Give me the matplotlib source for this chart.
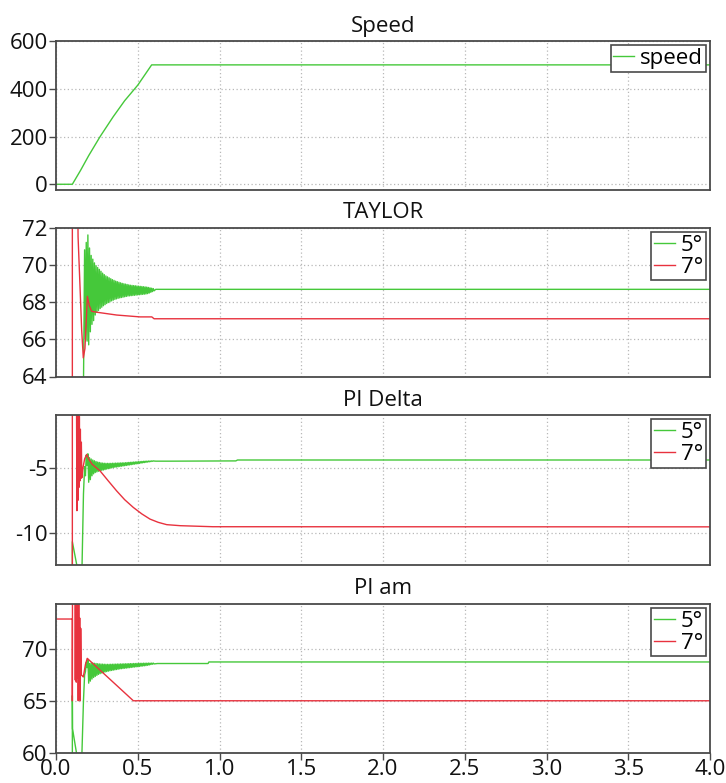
import numpy as np
import matplotlib
matplotlib.use("Agg")
import matplotlib.pyplot as plt

GREEN = "#45c83a"
RED = "#e8323e"

# ---------------- data ----------------
# Speed
speed_t = [0.0, 0.10, 0.15, 0.20, 0.27, 0.35, 0.42, 0.50, 0.585, 4.0]
speed_v = [0, 0, 58, 120, 200, 283, 350, 415, 500, 500]

# oscillation sample times (upper swing at t_hi, lower swing at t_lo)
osc_t_hi = np.round(0.175 + 0.01 * np.arange(43), 3)
osc_t_lo = np.round(0.180 + 0.01 * np.arange(43), 3)

# TAYLOR 5 deg
tay5_pre_t = [0.0, 0.16, 0.168]
tay5_pre_v = [60.0, 60.0, 63.5]
tay5_hi = [70.8, 71.2, 71.6, 70.9, 70.5, 70.3, 70.1, 69.95, 69.85, 69.75, 69.65,
           69.55, 69.47, 69.4, 69.35, 69.3, 69.25, 69.2, 69.16, 69.12, 69.09,
           69.06, 69.03, 69.0, 68.98, 68.96, 68.94, 68.92, 68.9, 68.89, 68.88,
           68.87, 68.86, 68.85, 68.84, 68.83, 68.82, 68.81, 68.8, 68.78, 68.76,
           68.74, 68.72]
tay5_lo = [66.0, 65.9, 65.7, 66.4, 66.8, 67.0, 67.3, 67.45, 67.55, 67.65, 67.72,
           67.8, 67.86, 67.92, 67.97, 68.02, 68.06, 68.1, 68.14, 68.17, 68.2,
           68.22, 68.24, 68.26, 68.28, 68.3, 68.32, 68.33, 68.34, 68.35, 68.36,
           68.37, 68.38, 68.39, 68.4, 68.41, 68.42, 68.43, 68.45, 68.48, 68.52,
           68.56, 68.6]
tay5_post_t = [0.61, 4.0]
tay5_post_v = [68.68, 68.68]

# TAYLOR 7 deg
tay7_t = [0.0, 0.1, 0.1, 0.13, 0.135, 0.147, 0.157, 0.167, 0.177, 0.192, 0.204,
          0.218, 0.25, 0.371, 0.514, 0.586, 0.6, 4.0]
tay7_v = [60.0, 60.0, 76.0, 76.0, 71.5, 68.8, 66.5, 65.0, 65.5, 68.3, 67.8,
          67.5, 67.45, 67.3, 67.2, 67.2, 67.1, 67.1]

# PI Delta 5 deg
pid5_pre_t = [0.0, 0.1, 0.1, 0.13, 0.157, 0.168]
pid5_pre_v = [-20.0, -20.0, -10.7, -12.7, -14.0, -7.0]
pid5_hi = [-4.9, -4.0, -3.9, -4.2, -4.3, -4.38, -4.44, -4.5, -4.54, -4.57, -4.6,
           -4.62, -4.63, -4.64, -4.64, -4.64, -4.64, -4.63, -4.63, -4.62, -4.62,
           -4.61, -4.61, -4.6, -4.6, -4.59, -4.58, -4.57, -4.56, -4.55, -4.54,
           -4.53, -4.52, -4.51, -4.5, -4.49, -4.48, -4.47, -4.47, -4.46, -4.46,
           -4.45, -4.45]
pid5_lo = [-5.6, -4.8, -6.1, -5.9, -5.6, -5.45, -5.35, -5.3, -5.25, -5.22, -5.18,
           -5.15, -5.12, -5.08, -5.05, -5.02, -4.99, -4.96, -4.94, -4.92, -4.9,
           -4.88, -4.86, -4.84, -4.82, -4.8, -4.78, -4.76, -4.74, -4.72, -4.7,
           -4.68, -4.66, -4.64, -4.62, -4.6, -4.58, -4.56, -4.54, -4.52, -4.5,
           -4.48, -4.46]
pid5_post_t = [0.61, 0.7, 1.1, 1.11, 4.0]
pid5_post_v = [-4.47, -4.47, -4.45, -4.38, -4.38]

# PI Delta 7 deg
pid7_t = [0.0, 0.1, 0.1, 0.125, 0.128, 0.131, 0.134, 0.137, 0.140, 0.143, 0.146,
          0.149, 0.152, 0.155, 0.158, 0.165, 0.175, 0.188, 0.2, 0.22, 0.27, 0.32,
          0.371, 0.42, 0.473, 0.525, 0.575, 0.625, 0.677, 0.76, 0.96, 4.0]
pid7_v = [-20.0, -20.0, 2.0, 2.0, -8.3, 0.0, -7.5, -0.5, -6.5, -1.0, -6.0,
          -2.0, -5.8, -3.0, -5.75, -5.0, -4.3, -3.95, -4.3, -4.7, -5.23, -6.0,
          -6.77, -7.45, -8.05, -8.55, -8.95, -9.2, -9.38, -9.46, -9.54, -9.55]

# PI am 5 deg
pam5_pre_t = [0.0, 0.1, 0.1, 0.101, 0.13, 0.155, 0.168]
pam5_pre_v = [55.0, 55.0, 65.5, 62.3, 59.5, 58.0, 65.0]
pam5_hi = [67.5, 68.7, 69.0, 68.6, 68.65, 68.65, 68.62, 68.6, 68.58, 68.56, 68.55,
           68.54, 68.53, 68.52, 68.52, 68.52, 68.53, 68.53, 68.54, 68.54, 68.55,
           68.55, 68.56, 68.56, 68.57, 68.57, 68.58, 68.58, 68.59, 68.59, 68.6,
           68.6, 68.61, 68.61, 68.62, 68.62, 68.63, 68.63, 68.63, 68.64, 68.64,
           68.64, 68.64]
pam5_lo = [67.8, 68.2, 66.7, 66.9, 67.1, 67.25, 67.35, 67.45, 67.55, 67.62, 67.68,
           67.73, 67.78, 67.82, 67.86, 67.9, 67.93, 67.96, 67.99, 68.02, 68.05,
           68.08, 68.1, 68.12, 68.14, 68.16, 68.18, 68.2, 68.22, 68.24, 68.26,
           68.28, 68.3, 68.32, 68.34, 68.36, 68.38, 68.4, 68.43, 68.46, 68.5,
           68.53, 68.56]
pam5_post_t = [0.62, 0.93, 0.935, 4.0]
pam5_post_v = [68.6, 68.6, 68.75, 68.75]

# PI am 7 deg
pam7_t = [0.0, 0.1, 0.1, 0.101, 0.115, 0.118, 0.121, 0.124, 0.127, 0.130, 0.133,
          0.136, 0.139, 0.142, 0.145, 0.148, 0.151, 0.155, 0.167, 0.18, 0.191,
          0.473, 4.0]
pam7_v = [72.9, 72.9, 65.0, 78.0, 78.0, 67.0, 76.0, 66.8, 76.0, 67.2, 75.0,
          65.0, 74.5, 67.0, 73.0, 65.0, 72.0, 67.5, 67.3, 68.5, 69.1,
          65.0, 65.0]

titles = ["Speed", "TAYLOR", "PI Delta", "PI am"]
yticks = [[0, 200, 400, 600], [64, 66, 68, 70, 72], [-10, -5], [60, 65, 70]]
xticks = [0.0, 0.5, 1.0, 1.5, 2.0, 2.5, 3.0, 3.5, 4.0]


def osc_series(pre_t, pre_v, hi, lo, post_t, post_v):
    t_mid = np.column_stack([osc_t_hi, osc_t_lo]).ravel()
    v_mid = np.column_stack([hi, lo]).ravel()
    t = np.concatenate([pre_t, t_mid, post_t])
    v = np.concatenate([pre_v, v_mid, post_v])
    return t, v


# ---------------- figure ----------------
plt.rcParams['font.family'] = ['Open Sans', 'DejaVu Sans']
plt.rcParams['axes.unicode_minus'] = False
FS = 16

fig = plt.figure(figsize=(7.26, 7.83), dpi=100)

W, H = 726.0, 783.0
left, right = 56 / W, 710 / W
panels = [  # (top_px, bottom_px)
    (41, 190),
    (227.5, 376.5),
    (415, 565),
    (603.5, 752.5),
]
axes = []
for top, bot in panels:
    ax = fig.add_axes([left, 1 - bot / H, right - left, (bot - top) / H])
    axes.append(ax)

ylims = [(-24, 600), (64, 72), (-12.5, -0.9), (60, 74.4)]

ax = axes[0]
ax.plot(speed_t, speed_v, color=GREEN, lw=1.0, label="speed")

ax = axes[1]
t, v = osc_series(tay5_pre_t, tay5_pre_v, tay5_hi, tay5_lo, tay5_post_t, tay5_post_v)
ax.plot(t, v, color=GREEN, lw=1.0, label="5°")
ax.plot(tay7_t, tay7_v, color=RED, lw=1.0, label="7°")

ax = axes[2]
t, v = osc_series(pid5_pre_t, pid5_pre_v, pid5_hi, pid5_lo, pid5_post_t, pid5_post_v)
ax.plot(t, v, color=GREEN, lw=1.0, label="5°")
ax.plot(pid7_t, pid7_v, color=RED, lw=1.0, label="7°")

ax = axes[3]
t, v = osc_series(pam5_pre_t, pam5_pre_v, pam5_hi, pam5_lo, pam5_post_t, pam5_post_v)
ax.plot(t, v, color=GREEN, lw=1.0, label="5°")
ax.plot(pam7_t, pam7_v, color=RED, lw=1.0, label="7°")

for i, ax in enumerate(axes):
    ax.set_xlim(0, 4.0)
    ax.set_ylim(*ylims[i])
    ax.set_yticks(yticks[i])
    ax.set_xticks(xticks)
    ax.grid(True, color="#b8b8b8", linestyle=(0, (1, 2)), linewidth=0.9)
    for s in ax.spines.values():
        s.set_color("#4a4a4a")
        s.set_linewidth(1.3)
    ax.tick_params(axis="both", direction="out", length=5, width=1,
                   color="#4a4a4a", labelsize=FS, pad=1, labelcolor="#111111")
    if i < 3:
        ax.tick_params(axis="x", length=0, labelbottom=False)
    else:
        ax.set_xticklabels([f"{x:.1f}" for x in xticks])
        ax.tick_params(axis="x", pad=0)
    ax.set_title(titles[i], fontsize=FS, pad=6.5, color="#111111")
    leg = ax.legend(loc="upper right", bbox_to_anchor=(1.0, 1.0),
                    borderaxespad=0.2, fontsize=FS, handlelength=0.95,
                    handletextpad=0.25, borderpad=0.12, labelspacing=0.05,
                    fancybox=False, framealpha=1.0)
    leg.get_frame().set_edgecolor("#4a4a4a")
    leg.get_frame().set_linewidth(1.2)

fig.savefig("out.png", dpi=100)
